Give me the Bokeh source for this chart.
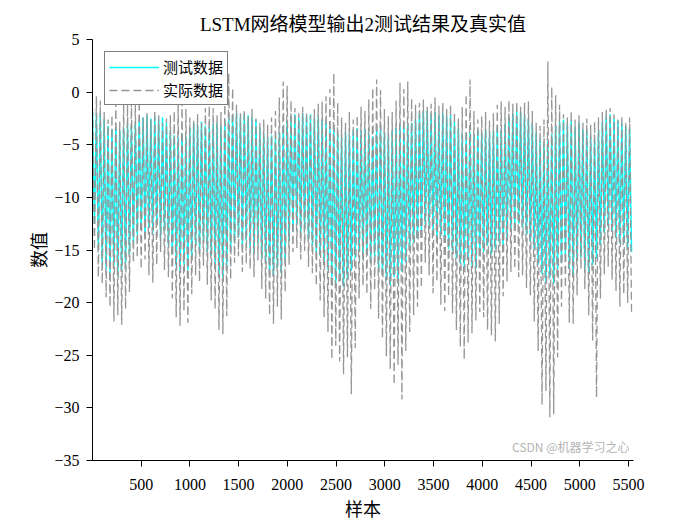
import numpy as np
from bokeh.plotting import figure
from bokeh.models import Range1d, FixedTicker, Legend, LegendItem, Label
from bokeh.embed import file_html
from bokeh.resources import INLINE

# ---- data (one high / one low value per oscillation cycle) ----
n_samples = 5551

pred_high = [
    -1.9, -2.1, -2.0, -2.6, -3.2, -3.5, -3.3, -3.6, -3.4, -3.1,
    -3.2, -3.0, -2.6, -2.4, -2.2, -2.5, -2.3, -2.6, -2.4, -2.9,
    -3.6, -4.1, -4.3, -3.9, -4.2, -3.4, -2.9, -3.1, -2.8, -3.2,
    -3.3, -3.0, -2.9, -3.2, -2.7, -2.5, -2.2, -2.0, -2.3, -2.1,
    -2.2, -2.4, -2.6, -3.4, -3.9, -4.3, -4.1, -4.4, -3.8, -3.2,
    -2.7, -2.3, -2.1, -2.4, -2.0, -2.3, -2.1, -2.5, -2.2, -2.6,
    -2.9, -3.3, -3.6, -4.0, -4.3, -3.8, -4.1, -3.6, -3.4, -3.7,
    -3.5, -3.9, -4.2, -3.6, -3.3, -3.8, -4.1, -3.7, -3.4, -3.2,
    -3.4, -3.1, -2.9, -2.6, -2.0, -1.8, -1.7, -2.1, -1.9, -2.2,
    -2.0, -2.3, -2.1, -2.8, -3.4, -3.9, -4.3, -3.8, -4.1, -3.6,
    -3.9, -3.6, -4.0, -3.7, -3.3, -3.5, -3.0, -2.4, -2.0, -1.8,
    -1.9, -2.2, -2.6, -3.0, -3.8, -4.5, -4.9, -4.6, -4.0, -3.2,
    -2.8, -2.6, -3.1, -2.7, -3.3, -2.9, -3.5, -3.7, -4.2, -4.6,
    -3.6, -2.8, -2.3, -2.1, -2.5, -2.7, -3.0, -3.2, -3.5,
]
pred_low = [
    -12.5, -14.8, -16.2, -16.8, -17.2, -16.5, -17.5, -16.9, -16.3, -15.4,
    -14.2, -13.6, -13.1, -13.8, -12.9, -13.4, -12.6, -13.9, -13.2, -14.6,
    -15.4, -16.6, -17.1, -16.4, -16.9, -15.8, -14.6, -15.0, -14.2, -15.2,
    -15.6, -16.4, -17.3, -17.6, -16.8, -15.2, -14.3, -13.8, -14.6, -14.1,
    -14.8, -15.3, -14.4, -15.8, -16.3, -16.9, -17.4, -16.7, -17.2, -15.9,
    -14.2, -13.1, -12.6, -13.5, -12.9, -14.0, -14.6, -15.2, -15.6, -16.2,
    -16.9, -17.6, -18.2, -17.4, -18.5, -17.8, -17.0, -15.8, -15.2, -15.9,
    -15.4, -16.1, -15.6, -16.8, -17.3, -17.9, -18.4, -17.6, -18.2, -17.1,
    -16.2, -15.0, -14.3, -13.9, -13.2, -12.6, -12.9, -13.5, -14.0, -13.7,
    -14.2, -14.9, -15.1, -15.8, -16.3, -16.7, -15.9, -16.5, -16.8, -15.6,
    -15.2, -14.6, -15.4, -14.9, -14.3, -14.8, -13.9, -13.2, -12.8, -12.5,
    -12.9, -13.6, -14.2, -15.0, -16.4, -17.3, -18.1, -17.6, -18.2, -16.8,
    -16.2, -15.4, -16.8, -17.5, -16.1, -15.7, -16.9, -17.3, -16.4, -15.8,
    -14.6, -13.4, -12.8, -13.3, -13.9, -14.4, -14.0, -14.8, -15.2,
]
true_high = [
    -1.5, -0.4, -0.8, -1.9, -2.6, -2.2, -1.0, -2.8, -0.9, -1.2,
    -0.9, -1.2, -0.8, -2.4, -2.0, -2.6, -1.8, -2.2, -2.9, -2.5,
    -2.2, -1.8, -1.0, -0.9, -1.6, -2.4, -2.7, -2.1, -2.9, -1.5,
    -1.3, -1.5, -2.2, -1.9, -0.6, 1.8, 0.4, -1.2, -2.0, -1.7,
    -2.3, -1.6, -2.5, -2.9, -2.6, -3.1, -2.4, -1.8, -0.5, 1.0,
    0.6, -0.8, -1.5, -2.0, -1.4, -1.9, -2.2, -1.6, -1.1, -0.9,
    -0.4, 0.3, 1.8, -1.0, -2.4, -2.9, -1.9, -2.6, -2.2, -1.4,
    -1.8, -0.7, 0.4, 1.2, 0.2, -1.6, -2.3, -1.9, -0.8, 0.9,
    0.3, 1.0, -0.6, -1.2, -1.0, -0.7, -1.4, -1.1, -0.5, -1.3,
    -1.0, -1.6, -1.2, -1.9, -2.5, -1.4, -0.2, 1.2, -1.8, -2.6,
    -2.3, -1.9, -2.7, -2.0, -1.2, -0.9, -1.4, -0.8, -1.1, -0.9,
    -1.4, -1.0, -0.9, -1.8, -2.9, -3.2, -2.6, 2.9, 0.5, -0.3,
    -1.2, -2.1, -2.4, -1.8, -2.6, -2.2, -2.9, -2.5, -3.1, -2.8,
    -2.4, -1.9, -1.6, -1.5, -2.1, -2.6, -2.3, -2.9, -2.4,
]
true_low = [
    -15.0, -17.6, -18.2, -19.5, -20.4, -21.8, -21.2, -22.1, -20.6, -19.0,
    -16.2, -15.7, -16.8, -15.9, -17.4, -18.1, -16.4, -15.2, -16.9, -17.6,
    -19.6, -21.4, -22.2, -20.8, -21.9, -19.2, -17.4, -18.0, -16.5, -18.3,
    -19.8, -20.6, -22.6, -23.0, -21.3, -17.8, -16.2, -15.6, -17.1, -16.3,
    -16.8, -17.6, -16.0, -18.7, -19.6, -21.2, -22.0, -20.4, -21.6, -19.0,
    -16.4, -15.2, -14.8, -15.9, -15.1, -16.6, -17.2, -18.4, -19.8, -21.4,
    -22.8, -25.4, -24.1, -25.6, -26.8, -25.2, -28.7, -24.3, -19.6, -18.4,
    -19.2, -20.6, -18.8, -21.5, -23.4, -25.1, -26.3, -27.8, -25.9, -29.2,
    -24.6, -22.8, -21.2, -20.4, -18.6, -16.2, -17.4, -19.1, -18.0, -20.2,
    -20.8, -19.4, -21.0, -22.6, -24.2, -25.4, -23.8, -22.9, -21.7, -20.9,
    -21.4, -22.6, -23.1, -23.7, -22.0, -19.4, -18.0, -17.1, -16.8, -17.6,
    -17.4, -18.6, -19.3, -21.8, -24.6, -29.7, -28.4, -30.9, -30.6, -25.2,
    -20.4, -18.6, -21.9, -22.0, -19.3, -16.8, -18.7, -21.2, -23.6, -29.0,
    -19.6, -17.3, -16.6, -17.8, -18.9, -20.4, -19.2, -20.0, -21.0,
]

x_ticks = [500, 1000, 1500, 2000, 2500, 3000, 3500, 4000, 4500, 5000, 5500]
y_ticks = [-35, -30, -25, -20, -15, -10, -5, 0, 5]

title_text = "LSTM网络模型输出2测试结果及真实值"
x_label = "样本"
y_label = "数值"
legend_labels = ["测试数据", "实际数据"]
footer_text = "CSDN @机器学习之心"

# ---- build the sample-index series: each cycle is a high point then a low point ----
n_cyc = len(pred_high)
cyc_len = (n_samples - 1) / n_cyc
x_hi = 1 + cyc_len * np.arange(n_cyc)
x_lo = x_hi + cyc_len / 2
xs = np.empty(2 * n_cyc)
xs[0::2] = x_hi
xs[1::2] = x_lo
pred = np.empty(2 * n_cyc)
pred[0::2] = pred_high
pred[1::2] = pred_low
true = np.empty(2 * n_cyc)
true[0::2] = true_high
true[1::2] = true_low

SERIF = "Liberation Serif, Noto Sans CJK SC"
CJK = "Noto Sans CJK SC"

p = figure(width=700, height=525,
           x_range=Range1d(1, n_samples), y_range=Range1d(-35, 5),
           output_backend="svg", toolbar_location=None,
           min_border_left=92, min_border_right=67,
           min_border_top=39, min_border_bottom=65)
p.outline_line_color = None
p.xgrid.visible = False
p.ygrid.visible = False
p.background_fill_color = "white"
p.border_fill_color = "white"

p.title.text = title_text
p.title.align = "center"
p.title.text_font = SERIF
p.title.text_font_size = "19px"
p.title.text_font_style = "normal"
p.title.text_color = "black"
p.title.standoff = 10

r_pred = p.line(xs, pred, line_color="#00FFFF", line_width=1.5)
r_true = p.line(xs, true, line_color="#959595", line_width=1.3, line_dash="8 4")

for ax in (p.xaxis[0], p.yaxis[0]):
    ax.major_tick_in = 0
    ax.major_tick_out = 6
    ax.minor_tick_in = 0
    ax.minor_tick_out = 0
    ax.axis_line_color = "black"
    ax.major_tick_line_color = "black"
    ax.major_label_text_font = "Liberation Serif"
    ax.major_label_text_font_size = "16px"
    ax.major_label_text_color = "black"
    ax.axis_label_text_font = CJK
    ax.axis_label_text_font_size = "18px"
    ax.axis_label_text_font_style = "normal"
    ax.axis_label_text_color = "black"

p.xaxis[0].ticker = FixedTicker(ticks=x_ticks)
p.yaxis[0].ticker = FixedTicker(ticks=y_ticks)
p.xaxis[0].axis_label = x_label
p.yaxis[0].axis_label = y_label
p.xaxis[0].major_label_standoff = 12
p.xaxis[0].axis_label_standoff = 2
p.yaxis[0].major_label_standoff = 7
p.yaxis[0].axis_label_standoff = 0

legend = Legend(items=[LegendItem(label=legend_labels[0], renderers=[r_pred]),
                       LegendItem(label=legend_labels[1], renderers=[r_true])],
                location="top_left")
legend.margin = 12
legend.padding = 4
legend.spacing = 2
legend.glyph_width = 50
legend.glyph_height = 18
legend.label_height = 18
legend.label_standoff = 4
legend.label_text_font = CJK
legend.label_text_font_size = "15px"
legend.label_text_color = "black"
legend.border_line_color = "black"
legend.border_line_width = 1
legend.background_fill_alpha = 1.0
p.add_layout(legend)

# the page watermark, kept inside the plotting area's empty lower-right corner
footer = Label(x=537, y=6, x_units="screen", y_units="screen",
               text=footer_text, text_font=CJK, text_font_size="12px",
               text_color="#b4b4b4", text_align="right", text_baseline="bottom")
p.add_layout(footer)

open("out.html", "w").write(file_html(p, INLINE))
